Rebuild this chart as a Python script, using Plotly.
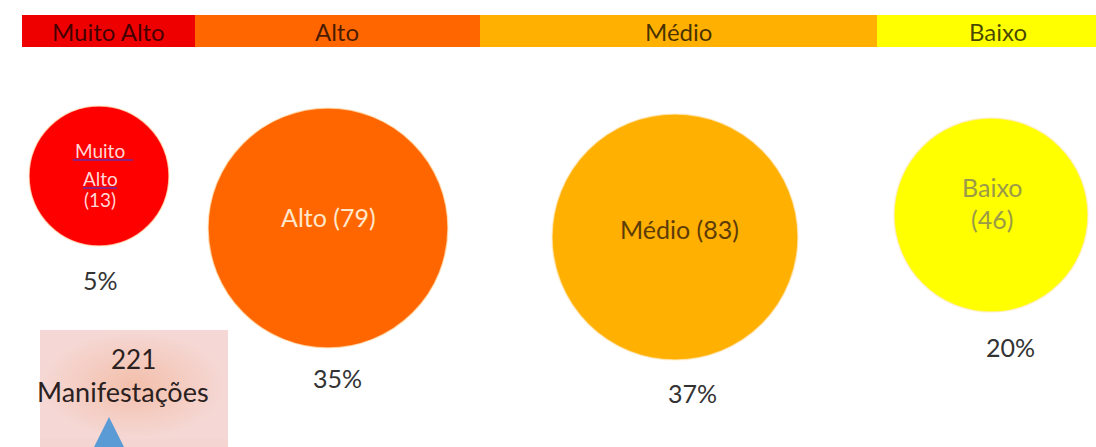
import plotly.graph_objects as go

# ---- data ----
levels = ["Muito Alto", "Alto", "Médio", "Baixo"]
counts = [13, 79, 83, 46]
percents = [5, 35, 37, 20]
total = 221
total_label = "Manifestações"

# ---- layout / style (pixel space of the canvas) ----
W, H = 1096, 447
bar_edges = [22, 195, 480, 877, 1130]
bar_y = (15, 47)
bar_colors = ["#ee0000", "#ff6600", "#ffb000", "#ffff00"]
circ_colors = ["#ff0000", "#ff6600", "#ffb000", "#ffff00"]
circ_cx = [99, 328, 675, 991]
circ_cy = [176, 228, 237, 215]
circ_r = [70, 120, 123, 97]
pct_xy = [(100, 280), (337, 378), (692, 393), (1010, 347)]
bar_text_x = [108, 337, 678, 998]
FONT = "Lato, 'Open Sans', sans-serif"

fig = go.Figure()
shapes = []
ann = []

# top legend bar
for i, lv in enumerate(levels):
    x0, x1 = bar_edges[i], bar_edges[i + 1]
    shapes.append(dict(type="rect", xref="x", yref="y", x0=x0, x1=x1, y0=bar_y[0], y1=bar_y[1],
                       fillcolor=bar_colors[i], line=dict(width=0), layer="below"))
    ann.append(dict(x=bar_text_x[i], y=31, text=lv, showarrow=False,
                    xref="x", yref="y", xanchor="center", yanchor="middle",
                    font=dict(family=FONT, size=24, color="rgba(0,0,0,0.72)")))

# circles
for i in range(4):
    shapes.append(dict(type="circle", xref="x", yref="y",
                       x0=circ_cx[i] - circ_r[i], x1=circ_cx[i] + circ_r[i],
                       y0=circ_cy[i] - circ_r[i], y1=circ_cy[i] + circ_r[i],
                       fillcolor=circ_colors[i], line=dict(color="rgba(255,235,200,0.7)", width=1.5),
                       layer="below"))

# circle labels
# Muito Alto (small, three lines)
for txt, yy in [("Muito", 150), ("Alto", 178), (f"({counts[0]})", 199)]:
    ann.append(dict(x=100, y=yy, text=txt, showarrow=False, xref="x", yref="y",
                    xanchor="center", yanchor="middle",
                    font=dict(family=FONT, size=19, color="#ffd8d8")))
shapes.append(dict(type="line", xref="x", yref="y", x0=73, x1=133, y0=160, y1=160,
                   line=dict(color="#6a2ca8", width=1.5)))
shapes.append(dict(type="line", xref="x", yref="y", x0=83, x1=117, y0=188, y1=188,
                   line=dict(color="#6a2ca8", width=1.5)))

ann.append(dict(x=328, y=217, text=f"{levels[1]} ({counts[1]})", showarrow=False, xref="x", yref="y",
                xanchor="center", yanchor="middle", font=dict(family=FONT, size=25, color="#ffe6cc")))
ann.append(dict(x=679, y=229, text=f"{levels[2]} ({counts[2]})", showarrow=False, xref="x", yref="y",
                xanchor="center", yanchor="middle", font=dict(family=FONT, size=25, color="#5e3c08")))
ann.append(dict(x=992, y=187, text=levels[3], showarrow=False, xref="x", yref="y",
                xanchor="center", yanchor="middle", font=dict(family=FONT, size=25, color="#9a9a48")))
ann.append(dict(x=992, y=219, text=f"({counts[3]})", showarrow=False, xref="x", yref="y",
                xanchor="center", yanchor="middle", font=dict(family=FONT, size=25, color="#9a9a48")))

# percentage labels
for (px, py), p in zip(pct_xy, percents):
    ann.append(dict(x=px, y=py, text=f"{p}%", showarrow=False, xref="x", yref="y",
                    xanchor="center", yanchor="middle", font=dict(family=FONT, size=25, color="#333333")))

# total box with radial gradient
fig.add_trace(go.Scatter(x=[40, 228, 228, 40, 40], y=[330, 330, 440, 440, 330], mode="lines",
                         fill="toself", line=dict(width=0),
                         fillgradient=dict(type="radial",
                                           colorscale=[[0, "#f3bfab"], [1, "#f5d8d5"]]),
                         hoverinfo="skip", showlegend=False))
fig.add_trace(go.Scatter(x=[40, 228, 228, 40, 40], y=[439, 439, 460, 460, 439], mode="lines",
                         fill="toself", line=dict(width=0), fillcolor="#f5d5d2",
                         hoverinfo="skip", showlegend=False))
# blue triangle
fig.add_trace(go.Scatter(x=[90, 109, 128, 90], y=[455, 417, 455, 455], mode="lines", fill="toself",
                         fillcolor="#5b9bd5", line=dict(width=0), hoverinfo="skip", showlegend=False))

ann.append(dict(x=133, y=359, text=str(total), showarrow=False, xref="x", yref="y",
                xanchor="center", yanchor="middle", font=dict(family=FONT, size=26, color="#2a2020")))
ann.append(dict(x=123, y=391, text=total_label, showarrow=False, xref="x", yref="y",
                xanchor="center", yanchor="middle", font=dict(family=FONT, size=27, color="#2a2020")))

fig.update_layout(
    width=W, height=H, autosize=False,
    margin=dict(l=0, r=0, t=0, b=0),
    paper_bgcolor="white", plot_bgcolor="white",
    xaxis=dict(range=[0, W], visible=False, fixedrange=True),
    yaxis=dict(range=[H, 0], visible=False, fixedrange=True),
    shapes=shapes, annotations=ann, showlegend=False,
)

fig.write_html("out.html", config={"displayModeBar": False})
